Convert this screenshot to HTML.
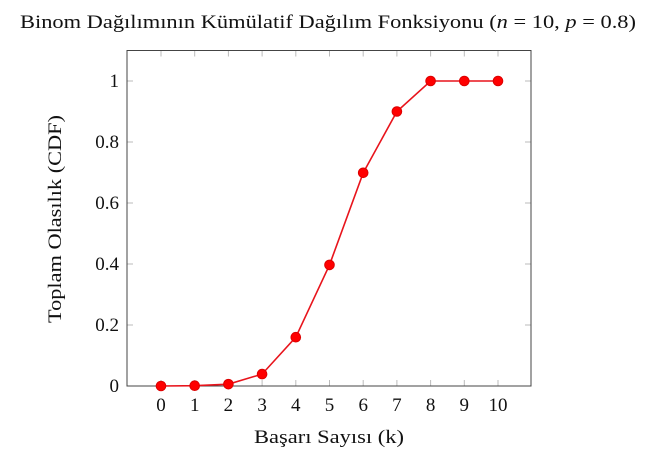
<!DOCTYPE html>
<html><head><meta charset="utf-8"><style>
body{margin:0;background:#fff}
svg text{font-family:"Liberation Serif",serif;fill:#111}
</style></head><body>
<svg id="c" width="672" height="468" xmlns="http://www.w3.org/2000/svg">
<text x="328" y="28" font-size="19" text-anchor="middle" textLength="616" lengthAdjust="spacingAndGlyphs">Binom Dağılımının Kümülatif Dağılım Fonksiyonu (<tspan font-style="italic">n</tspan> = 10, <tspan font-style="italic">p</tspan> = 0.8)</text>
<text x="329" y="443" font-size="19" text-anchor="middle" textLength="150" lengthAdjust="spacingAndGlyphs">Başarı Sayısı (k)</text>
<text transform="translate(61,219) rotate(-90)" font-size="19" text-anchor="middle" textLength="208" lengthAdjust="spacingAndGlyphs">Toplam Olasılık (CDF)</text>
<g id="ticks"></g>
<rect x="127" y="50.5" width="404" height="335.5" fill="none" stroke="#444" stroke-width="1"/>
<g id="series"></g>
</svg>
<script>
const categories=[0,1,2,3,4,5,6,7,8,9,10];
const cdfValues=[0,0.001,0.006,0.039,0.16,0.397,0.699,0.9,1,1,1];
const yTicks=[0,0.2,0.4,0.6,0.8,1];
const yTickLabels=["0","0.2","0.4","0.6","0.8","1"];
const NS="http://www.w3.org/2000/svg";
const X=v=>161+v*33.7;
const Y=v=>386-v*305;
function mk(t,a,p){const e=document.createElementNS(NS,t);for(const k in a)e.setAttribute(k,a[k]);p.appendChild(e);return e;}
const tk=document.getElementById('ticks'),se=document.getElementById('series');
categories.forEach(c=>{
  const l1=mk('line',{x1:X(c),x2:X(c),y1:386,y2:380,stroke:'#bbb'},tk);
  
  
  const l2=mk('line',{x1:X(c),x2:X(c),y1:50.5,y2:56.5,stroke:'#bbb'},tk);
  
  
  const t=mk('text',{x:X(c),y:411,'font-size':19,'text-anchor':'middle'},tk);t.textContent=c;
  
  
});
yTicks.forEach((v,i)=>{
  const l1=mk('line',{x1:127,x2:133,y1:Y(v),y2:Y(v),stroke:'#bbb'},tk);
  
  
  const l2=mk('line',{x1:525,x2:531,y1:Y(v),y2:Y(v),stroke:'#bbb'},tk);
  
  
  const t=mk('text',{x:119,y:Y(v)+6,'font-size':19,'text-anchor':'end'},tk);t.textContent=yTickLabels[i];
  
  
});
const pl=mk('polyline',{points:categories.map((c,i)=>X(c)+','+Y(cdfValues[i])).join(' '),fill:'none',stroke:'#e8141c','stroke-width':1.6},se);


categories.forEach((c,i)=>{
  const p=mk('circle',{cx:X(c),cy:Y(cdfValues[i]),r:4.8,fill:'#f00',stroke:'#d00'},se);
  
  
});
</script>
</body></html>
